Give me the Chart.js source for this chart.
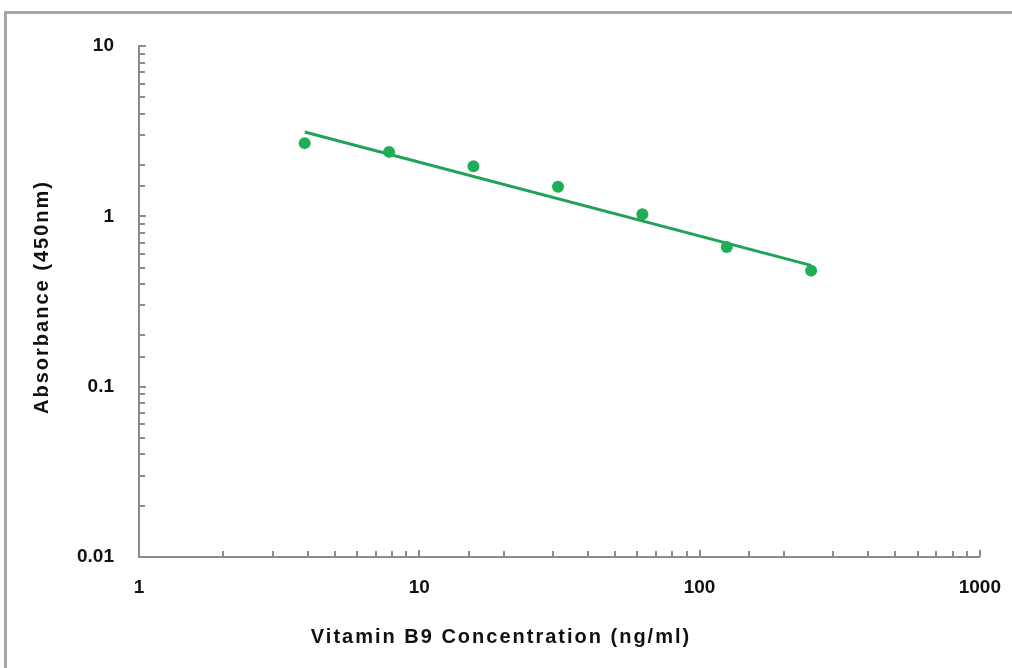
<!DOCTYPE html>
<html>
<head>
<meta charset="utf-8">
<script src="https://cdn.jsdelivr.net/npm/chart.js@4.4.1/dist/chart.umd.min.js"></script>
<style>
  html, body { margin:0; padding:0; background:#fff; }
  #wrap { position:relative; width:1012px; height:668px; overflow:hidden; }
  #frame { position:absolute; left:4px; top:11px; width:1100px; height:800px;
           border-top:3px solid #a8a8a8; border-left:3px solid #a8a8a8; box-sizing:border-box; }
  canvas { position:absolute; left:0; top:0; }
</style>
</head>
<body>
<div id="wrap">
  <div id="frame"></div>
  <canvas id="curve" width="1012" height="668"></canvas>
</div>
<script>
// Standard curve — Vitamin B9 ELISA, log-log
const concentration = [3.9, 7.8, 15.6, 31.25, 62.5, 125, 250];
const absorbance    = [2.69, 2.39, 1.97, 1.49, 1.03, 0.66, 0.48];

// trend line at its two ends
const fitX = [3.9, 250];
const fitY = [3.13, 0.515];

const xTickLabels = [1, 10, 100, 1000];
const yTickLabels = [0.01, 0.1, 1, 10];

const GREEN     = '#1fae55';
const GREEN_LN  = '#20a356';
const AXIS_GRAY = '#8c8c8c';
const FONT      = '"Liberation Sans", Arial, sans-serif';

// ticks point into the plot, like the original Excel export
const inwardTicks = {
  id: 'inwardTicks',
  afterDraw(chart) {
    const {ctx, chartArea: a, scales: {x, y}} = chart;
    ctx.save();
    ctx.strokeStyle = AXIS_GRAY;
    ctx.lineWidth = 2;
    ctx.beginPath();
    x.ticks.forEach(t => {
      const px = Math.round(x.getPixelForValue(t.value));
      const len = t.major ? 7 : 6;
      ctx.moveTo(px, a.bottom);
      ctx.lineTo(px, a.bottom - len);
    });
    y.ticks.forEach(t => {
      const py = Math.round(y.getPixelForValue(t.value));
      const len = t.major ? 7 : 6;
      ctx.moveTo(a.left, py);
      ctx.lineTo(a.left + len, py);
    });
    ctx.stroke();

    // axis titles, letter-spaced as in the source
    ctx.fillStyle = '#111';
    ctx.font = 'bold 20px ' + FONT;
    ctx.textAlign = 'center';
    ctx.textBaseline = 'middle';
    ctx.letterSpacing = '2px';
    ctx.fillText('Vitamin B9 Concentration (ng/ml)', 501, 637);
    ctx.translate(42, 297);
    ctx.rotate(-Math.PI / 2);
    ctx.fillText('Absorbance (450nm)', 0, 0);
    ctx.restore();
  }
};

new Chart(document.getElementById('curve'), {
  type: 'scatter',
  data: {
    datasets: [
      {
        label: 'fit',
        data: fitX.map((v, i) => ({x: v, y: fitY[i]})),
        showLine: true,
        borderColor: GREEN_LN,
        borderWidth: 3,
        pointRadius: 0,
        order: 2
      },
      {
        label: 'standards',
        data: concentration.map((v, i) => ({x: v, y: absorbance[i]})),
        backgroundColor: GREEN,
        borderColor: GREEN,
        pointRadius: 6,
        pointBorderWidth: 0,
        order: 1
      }
    ]
  },
  plugins: [inwardTicks],
  options: {
    responsive: false,
    animation: false,
    layout: {padding: {left: 0, top: 46, right: 27, bottom: 0}},
    plugins: {legend: {display: false}, tooltip: {enabled: false}},
    scales: {
      x: {
        type: 'logarithmic',
        min: 1, max: 1000,
        grid: {display: false},
        border: {display: true, color: AXIS_GRAY, width: 2},
        ticks: {
          autoSkip: false, maxRotation: 0, padding: 11,
          color: '#111', font: {family: FONT, size: 19, weight: 'bold'},
          callback: v => xTickLabels.includes(v) ? String(v) : ''
        },
        afterFit: s => { s.height = 111; }
      },
      y: {
        type: 'logarithmic',
        min: 0.01, max: 10,
        grid: {display: false},
        border: {display: true, color: AXIS_GRAY, width: 2},
        ticks: {
          autoSkip: false, padding: 17,
          color: '#111', font: {family: FONT, size: 19, weight: 'bold'},
          callback: v => yTickLabels.some(t => Math.abs(t - v) < 1e-9) ? String(v) : ''
        },
        afterFit: s => { s.width = 139; }
      }
    }
  }
});
</script>
</body>
</html>
